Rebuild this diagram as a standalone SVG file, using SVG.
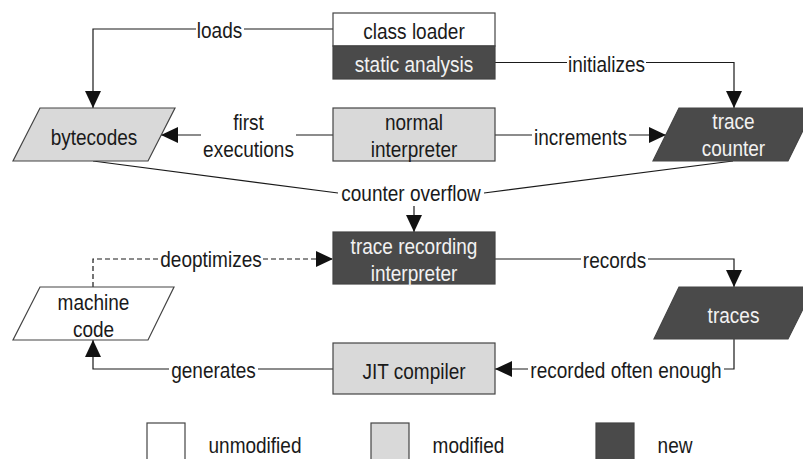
<svg xmlns="http://www.w3.org/2000/svg" width="803" height="459" viewBox="0 0 803 459">
<defs>
<marker id="arr" markerUnits="userSpaceOnUse" markerWidth="18" markerHeight="16" refX="17" refY="8" orient="auto">
<path d="M0,0 L17,8 L0,16 z" fill="#111"/>
</marker>
<style>
text{font-family:"Liberation Sans",Arial,sans-serif;font-size:22px;fill:#1a1a1a;text-anchor:middle}
text.w{fill:#f2f2f2}
.box{stroke:#444;stroke-width:1.2}
.un{fill:#ffffff}
.mod{fill:#d9d9d9}
.new{fill:#4a4a4a}
.c{fill:none;stroke:#1a1a1a;stroke-width:1.2}
.d{stroke-dasharray:5 3}
.a{marker-end:url(#arr)}
</style>
</defs>
<rect width="803" height="459" fill="#fff"/>

<g id="connectors">
<path class="c a" d="M333,29 H244 M196,29 H93 V108"/>
<text transform="translate(219.5,38) scale(0.865 1)">loads</text>
<path class="c a" d="M495,62.5 H567 M646,62.5 H734 V108"/>
<text transform="translate(606.5,71.5) scale(0.865 1)">initializes</text>
<path class="c a" d="M333,135 H296 M201,135 H161"/>
<text transform="translate(248.5,130) scale(0.865 1)"><tspan x="0">first</tspan><tspan x="0" dy="27">executions</tspan></text>
<path class="c a" d="M495,135 H532 M629,135 H666"/>
<text transform="translate(580.5,145) scale(0.865 1)">increments</text>
<path class="c" d="M93,161 L338,193 M733,161 L484,193"/>
<text transform="translate(411,201) scale(0.865 1)">counter overflow</text>
<path class="c a" d="M414,206 V232"/>
<path class="c d a" d="M93,287 V259 H159 M263,259 H333"/>
<text transform="translate(211,267) scale(0.865 1)">deoptimizes</text>
<path class="c a" d="M495,259 H581 M648,259 H734 V287"/>
<text transform="translate(614.5,268) scale(0.865 1)">records</text>
<path class="c a" d="M734,339 V369 H724 M528,369 H495"/>
<text transform="translate(626,378) scale(0.865 1)">recorded often enough</text>
<path class="c a" d="M333,369 H258 M169,369 H93 V340"/>
<text transform="translate(213.5,378) scale(0.865 1)">generates</text>
</g>

<g id="class-loader">
<rect class="box un" x="333" y="13" width="162" height="33"/>
<text transform="translate(414,39) scale(0.865 1)">class loader</text>
</g>
<g id="static-analysis">
<rect class="box new" x="333" y="46" width="162" height="33"/>
<text class="w" transform="translate(414,72) scale(0.865 1)">static analysis</text>
</g>
<g id="bytecodes">
<polygon class="box mod" points="40,108 175,108 148,161 13,161"/>
<text transform="translate(94,145) scale(0.865 1)">bytecodes</text>
</g>
<g id="normal-interpreter">
<rect class="box mod" x="333" y="108" width="162" height="53"/>
<text transform="translate(414,130) scale(0.865 1)"><tspan x="0">normal</tspan><tspan x="0" dy="27">interpreter</tspan></text>
</g>
<g id="trace-counter">
<polygon class="box new" points="679,108 814,108 788,161 653,161"/>
<text class="w" transform="translate(733.5,129) scale(0.865 1)"><tspan x="0">trace</tspan><tspan x="0" dy="27">counter</tspan></text>
</g>
<g id="trace-recording-interpreter">
<rect class="box new" x="333" y="232" width="162" height="52"/>
<text class="w" transform="translate(414,254) scale(0.865 1)"><tspan x="0">trace recording</tspan><tspan x="0" dy="27">interpreter</tspan></text>
</g>
<g id="machine-code">
<polygon class="box un" points="40,287 174,287 148,340 13,340"/>
<text transform="translate(93.5,310) scale(0.865 1)"><tspan x="0">machine</tspan><tspan x="0" dy="27">code</tspan></text>
</g>
<g id="traces">
<polygon class="box new" points="679,287 814,287 788,339 654,339"/>
<text class="w" transform="translate(733.5,323) scale(0.865 1)">traces</text>
</g>
<g id="jit-compiler">
<rect class="box mod" x="333" y="343" width="162" height="51"/>
<text transform="translate(414,379) scale(0.865 1)">JIT compiler</text>
</g>

<g id="legend">
<rect class="box un" x="147" y="423" width="38" height="50"/>
<text transform="translate(255,453) scale(0.865 1)">unmodified</text>
<rect class="box mod" x="371" y="423" width="38" height="50"/>
<text transform="translate(468.5,453) scale(0.865 1)">modified</text>
<rect class="box new" x="596" y="423" width="38" height="50"/>
<text transform="translate(675,453) scale(0.865 1)">new</text>
</g>
</svg>
